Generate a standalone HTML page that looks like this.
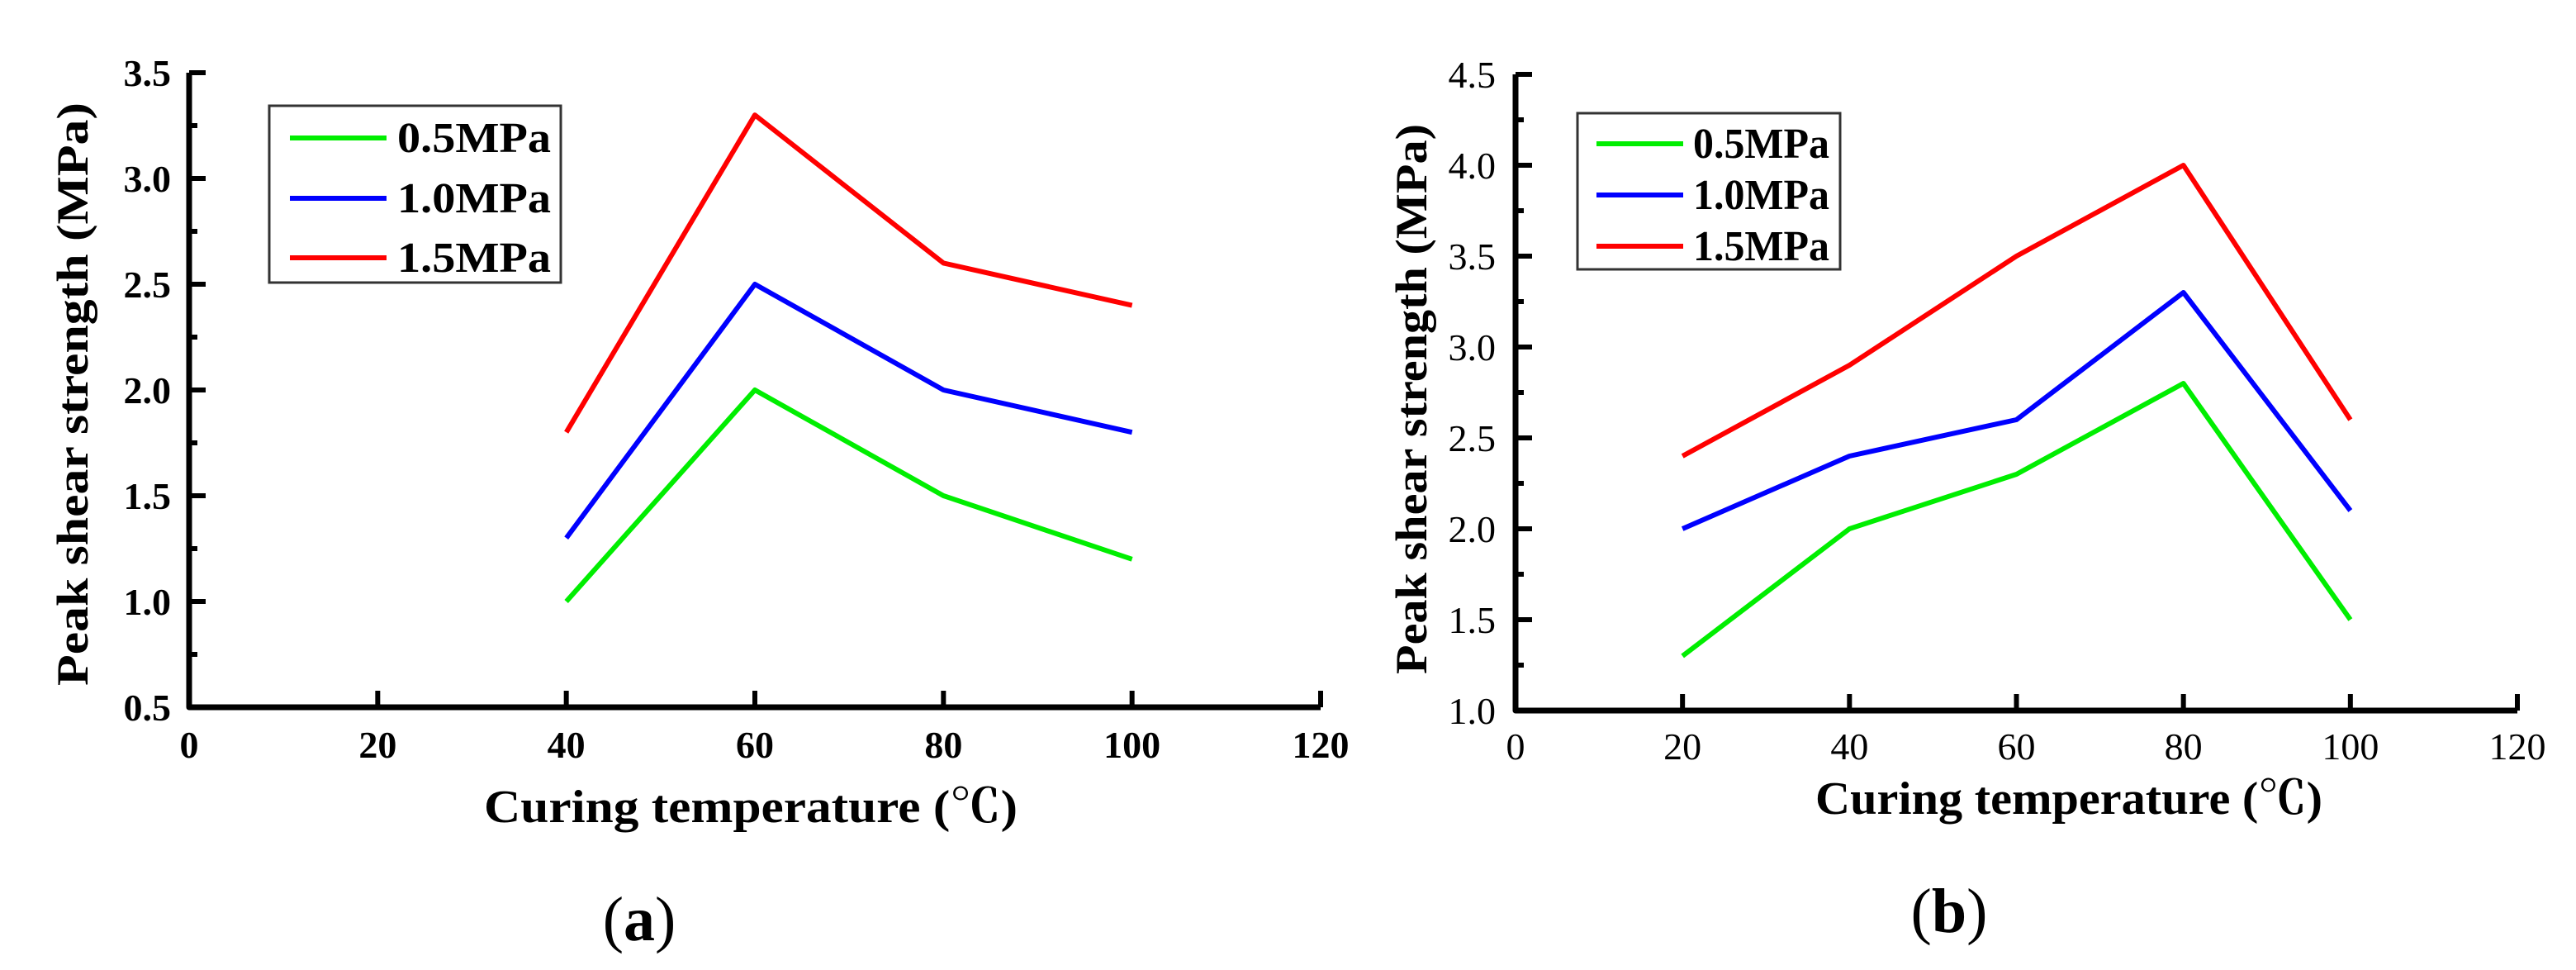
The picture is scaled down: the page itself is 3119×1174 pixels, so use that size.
<!DOCTYPE html>
<html><head><meta charset="utf-8"><style>
html,body{margin:0;padding:0;background:#fff}
svg{display:block}
text{font-family:"Liberation Serif","Noto Serif CJK SC",serif;fill:#000}
</style></head><body>
<svg id="fig" width="3119" height="1174" viewBox="0 0 3119 1174" xmlns="http://www.w3.org/2000/svg"></svg>
<script>
const xTicks = [0, 20, 40, 60, 80, 100, 120];
const seriesNames = ["0.5MPa", "1.0MPa", "1.5MPa"];
const seriesColors = ["#00ee00", "#0000ff", "#ff0000"];
const aX = [40, 60, 80, 100];
const aS05 = [1.0, 2.0, 1.5, 1.2];
const aS10 = [1.3, 2.5, 2.0, 1.8];
const aS15 = [1.8, 3.3, 2.6, 2.4];
const aYTicks = ["0.5", "1.0", "1.5", "2.0", "2.5", "3.0", "3.5"];
const bX = [20, 40, 60, 80, 100];
const bS05 = [1.3, 2.0, 2.3, 2.8, 1.5];
const bS10 = [2.0, 2.4, 2.6, 3.3, 2.1];
const bS15 = [2.4, 2.9, 3.5, 4.0, 2.6];
const bYTicks = ["1.0", "1.5", "2.0", "2.5", "3.0", "3.5", "4.0", "4.5"];

const NS = "http://www.w3.org/2000/svg";
const svg = document.getElementById('fig');
function mk(tag, attrs, parent, txt) {
  const e = document.createElementNS(NS, tag);
  for (const k in attrs) e.setAttribute(k, attrs[k]);
  if (txt !== undefined) e.textContent = txt;
  (parent || svg).appendChild(e);
  return e;
}

function chart(cfg) {
  const g = mk('g', {});
  
  
  const yMin = parseFloat(cfg.yTicks[0]), yMax = parseFloat(cfg.yTicks[cfg.yTicks.length - 1]);
  const sx = v => cfg.x0 + (v - 0) / 120 * (cfg.x1 - cfg.x0);
  const sy = v => cfg.y0 - (v - yMin) / (yMax - yMin) * (cfg.y0 - cfg.y1);
  const fw = cfg.bold ? 'bold' : 'normal';
  const ax = mk('path', {d: `M${cfg.x0},${cfg.y1} L${cfg.x0},${cfg.y0} L${cfg.x1},${cfg.y0}`, fill: 'none', stroke: '#000', 'stroke-width': 7, 'stroke-linejoin': 'round'}, g);
  
  
  xTicks.forEach(t => {
    const x = sx(t);
    const tk = mk('line', {x1: x, x2: x, y1: cfg.y0, y2: cfg.y0 - 20, stroke: '#000', 'stroke-width': 6}, g);
    
    
    const lb = mk('text', {x: x, y: cfg.xLabelY, 'text-anchor': 'middle', 'font-size': 46, 'font-weight': fw}, g, String(t));
    
    
  });
  const step = (yMax - yMin) / (cfg.yTicks.length - 1);
  for (let i = 0; i < cfg.yTicks.length; i++) {
    const v = parseFloat(cfg.yTicks[i]);
    const y = sy(v);
    const tk = mk('line', {x1: cfg.x0, x2: cfg.x0 + 20, y1: y, y2: y, stroke: '#000', 'stroke-width': 6}, g);
    
    
    if (i < cfg.yTicks.length - 1) {
      const ym = sy(v + step / 2);
      const mt = mk('line', {x1: cfg.x0, x2: cfg.x0 + 10, y1: ym, y2: ym, stroke: '#000', 'stroke-width': 6}, g);
      
      
    }
    const lb = mk('text', {x: cfg.yLabelX, y: y + 16, 'text-anchor': 'end', 'font-size': 46, 'font-weight': fw}, g, cfg.yTicks[i]);
    
    
  }
  cfg.series.forEach((vals, si) => {
    const pts = vals.map((v, i) => sx(cfg.xs[i]) + ',' + sy(v)).join(' ');
    const pl = mk('polyline', {points: pts, fill: 'none', stroke: seriesColors[si], 'stroke-width': 6, 'stroke-linejoin': 'round'}, g);
    
    
  });
  const L = cfg.legend;
  const lg = mk('g', {}, g);
  
  
  mk('rect', {x: L.x, y: L.y, width: L.w, height: L.h, fill: '#fff', stroke: '#333', 'stroke-width': 3}, lg);
  seriesNames.forEach((n, i) => {
    const y = L.rows[i];
    const ln = mk('line', {x1: L.lx1, x2: L.lx2, y1: y, y2: y, stroke: seriesColors[i], 'stroke-width': 6}, lg);
    
    
    const tx = mk('text', {x: L.tx, y: y + 17, 'font-size': 52, 'font-weight': 'bold', textLength: L.tw, lengthAdjust: 'spacingAndGlyphs'}, lg, n);
    
    
  });
  const yt = mk('text', {x: 0, y: 0, transform: `translate(${cfg.ytX},${cfg.ytY}) rotate(-90)`, 'text-anchor': 'middle', 'font-size': 54, 'font-weight': 'bold', textLength: cfg.ytLen, lengthAdjust: 'spacingAndGlyphs'}, g, 'Peak shear strength (MPa)');
  
  
  const xt = mk('text', {x: cfg.xtX, y: cfg.xtY, 'text-anchor': 'middle', 'font-size': 56, 'font-weight': 'bold', textLength: cfg.xtLen, lengthAdjust: 'spacingAndGlyphs'}, g, 'Curing temperature (℃)');
  
  
  const cap = mk('text', {x: cfg.capX, y: cfg.capY, 'text-anchor': 'middle', 'font-size': 76}, g);
  
  
  mk('tspan', {}, cap, '(');
  mk('tspan', {'font-weight': 'bold'}, cap, cfg.cap);
  mk('tspan', {}, cap, ')');
}

chart({name: 'chart-a', x0: 229, x1: 1599, y0: 856, y1: 88, yTicks: aYTicks, xs: aX, series: [aS05, aS10, aS15],
  bold: true, xLabelY: 917, yLabelX: 207,
  legend: {x: 326, y: 128, w: 353, h: 214, rows: [167, 240, 312], lx1: 351, lx2: 468, tx: 481, tw: 186},
  ytX: 106, ytY: 477, ytLen: 706, xtX: 909, xtY: 995, xtLen: 646, capX: 774, capY: 1138, cap: 'a'});
chart({name: 'chart-b', x0: 1835, x1: 3048, y0: 860, y1: 90, yTicks: bYTicks, xs: bX, series: [bS05, bS10, bS15],
  bold: false, xLabelY: 919, yLabelX: 1811,
  legend: {x: 1910, y: 137, w: 318, h: 189, rows: [174, 236, 298], lx1: 1933, lx2: 2038, tx: 2050, tw: 165},
  ytX: 1727, ytY: 483, ytLen: 666, xtX: 2505, xtY: 985, xtLen: 614, capX: 2360, capY: 1128, cap: 'b'});
</script>
</body></html>
